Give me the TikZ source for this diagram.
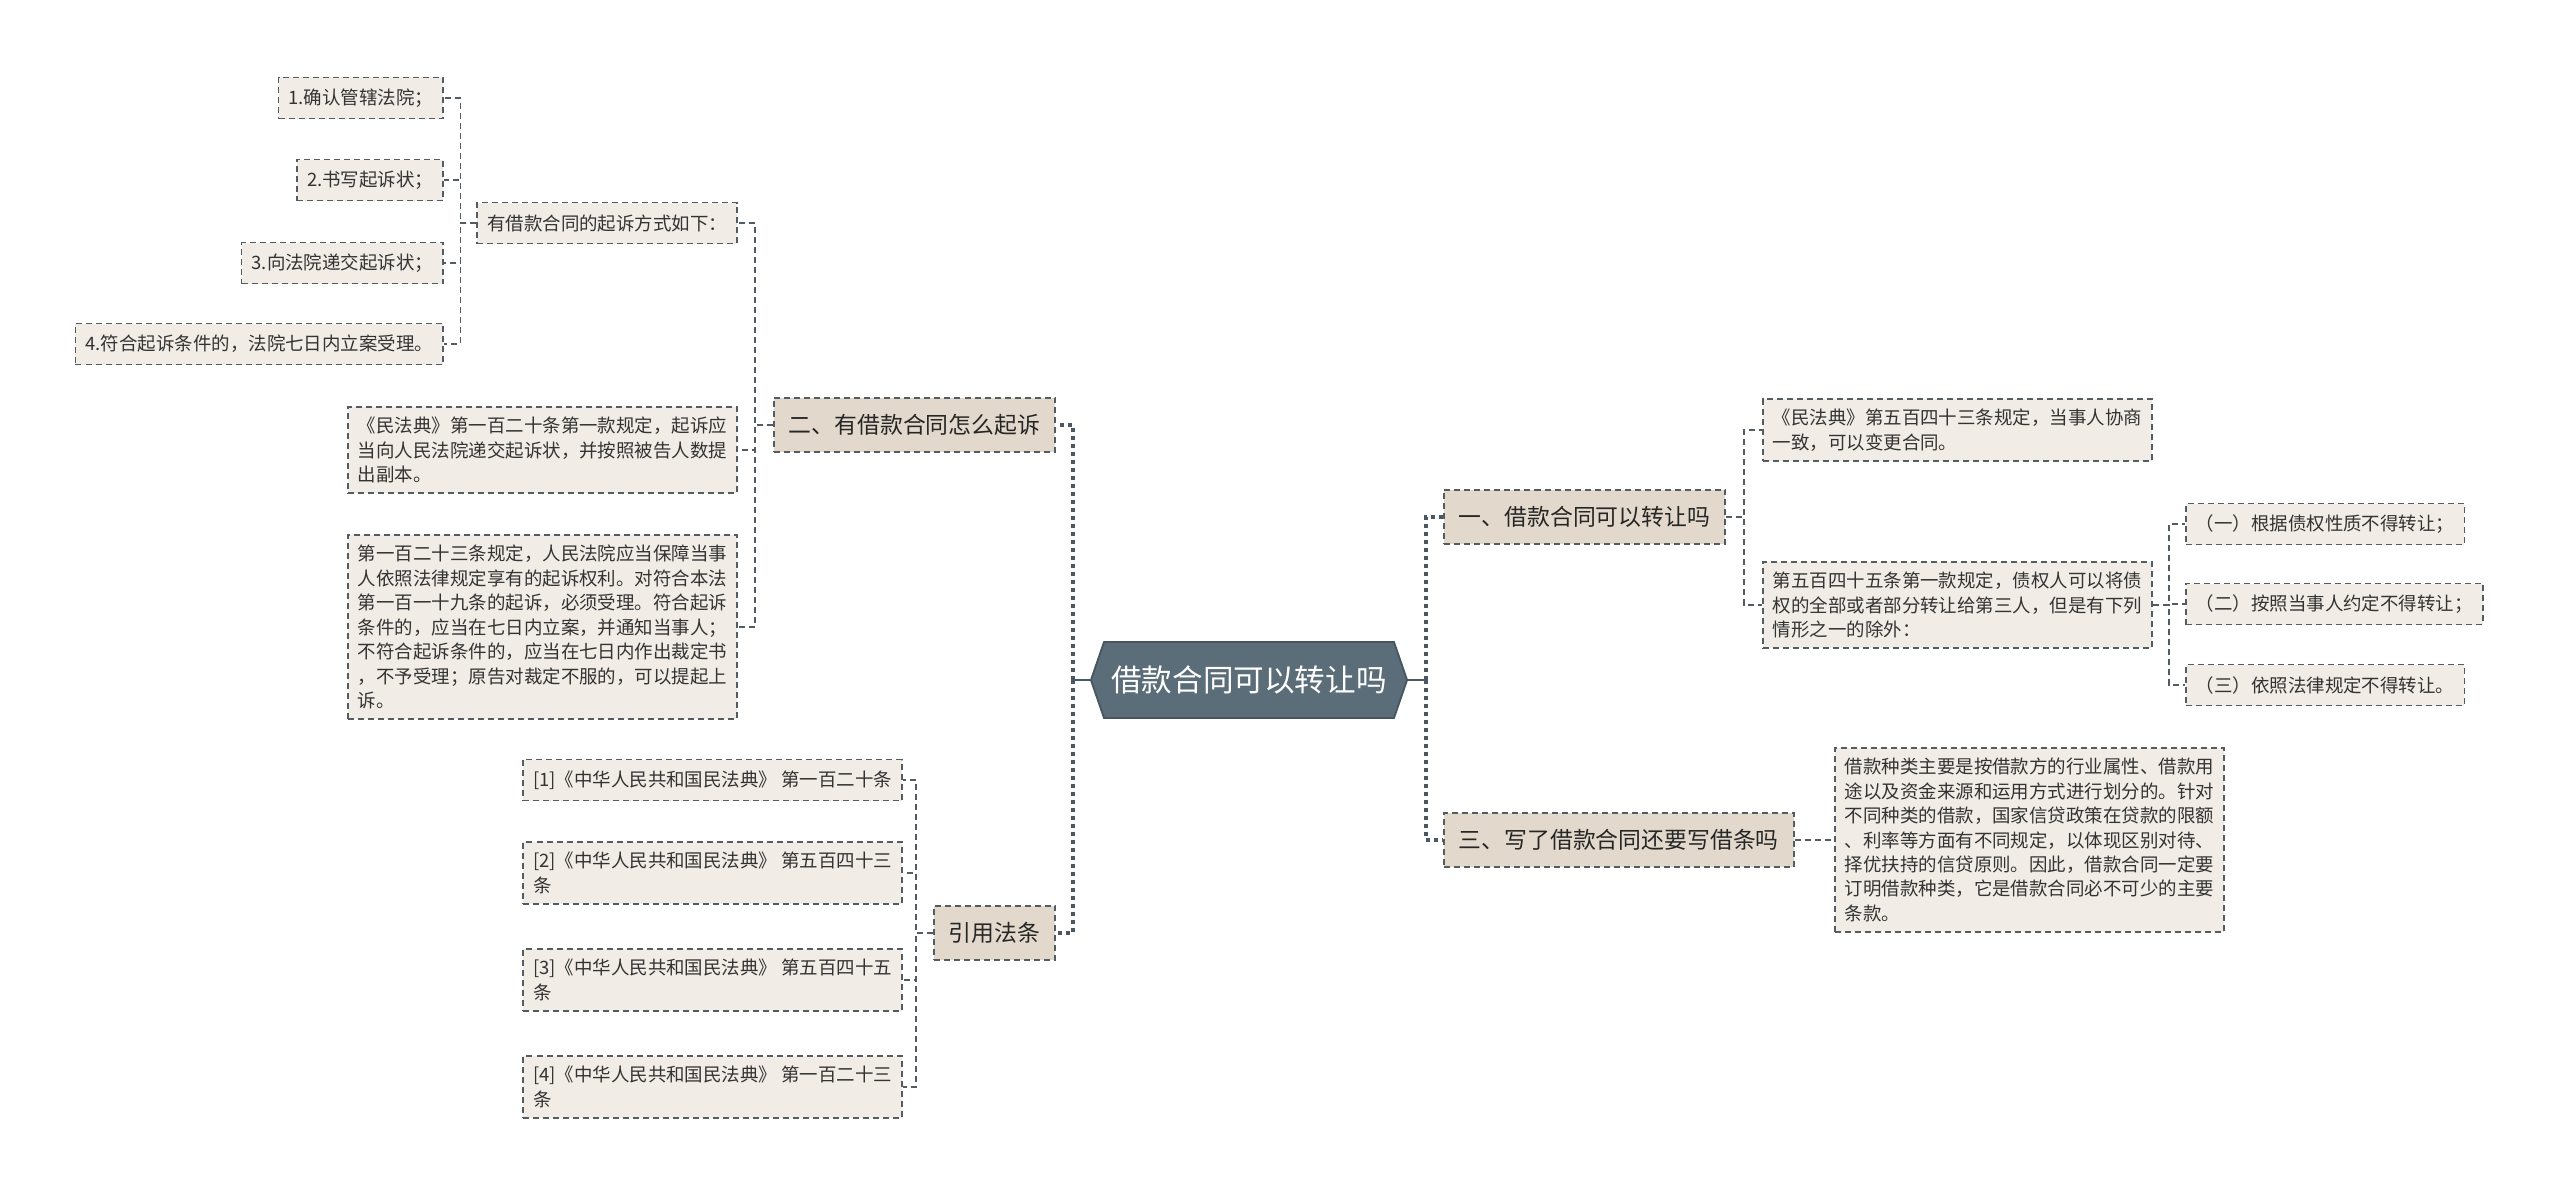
\documentclass[tikz,border=0pt]{standalone}
\usepackage{fontspec}
\setmainfont{Noto Sans CJK SC}
\usetikzlibrary{shapes.symbols}

\definecolor{rootfill}{HTML}{5B6D79}
\definecolor{rootline}{HTML}{46555F}
\definecolor{topicfill}{HTML}{E2D9CC}
\definecolor{leaffill}{HTML}{F1EDE6}
\definecolor{edgeline}{HTML}{535C63}
\definecolor{spineline}{HTML}{4B5761}

\newcommand*{\leaffont}{\fontsize{5.25pt}{6.95pt}\selectfont}
\newcommand*{\topicfont}{\fontsize{6.5pt}{8pt}\selectfont}
\newcommand*{\rootfont}{\fontsize{8.7pt}{10pt}\selectfont}

\begin{document}
\begin{tikzpicture}
[
	x=0.01cm,
	y=-0.01cm,
	root/.style={signal,signal to=west and east,signal pointer angle=142,fill=rootfill,draw=rootline,line width=0.5pt,
		text=white,font=\rootfont,minimum width=3.16cm,minimum height=0.76cm,inner xsep=0.05cm},
	topic/.style={draw=edgeline,dash pattern=on 0.06cm off 0.04cm,line width=0.45pt,fill=topicfill,
		font=\topicfont,text=black!85,minimum height=0.54cm,inner xsep=0.15cm},
	leaf/.style={draw=edgeline,dash pattern=on 0.06cm off 0.04cm,line width=0.45pt,fill=leaffill,
		font=\leaffont,text=black!80,align=left,minimum height=0.41cm,inner xsep=0.1cm,inner ysep=0.1cm},
	mainlink/.style={spineline,line width=0.9pt,dash pattern=on 0.04cm off 0.04cm},
	stemline/.style={spineline,line width=0.6pt},
	sublink/.style={edgeline,line width=0.45pt,dash pattern=on 0.06cm off 0.04cm}
]

	% page
	\useasboundingbox[fill=white] (0,0) rectangle (2560,1199);

	% root
	\node[root] (root) at (1249,680) {借款合同可以转让吗};

	% topics
	\node[topic,anchor=east] (sue) at (1056,425) {二、有借款合同怎么起诉};
	\node[topic,anchor=east] (laws) at (1056,933) {引用法条};
	\node[topic,anchor=west] (transfer) at (1443,517) {一、借款合同可以转让吗};
	\node[topic,anchor=west] (iou) at (1443,840) {三、写了借款合同还要写借条吗};

	% how to sue
	\node[leaf,anchor=east] (ways) at (738,223) {有借款合同的起诉方式如下：};
	\node[leaf,anchor=east] (art120) at (738,450) {《民法典》第一百二十条第一款规定，起诉应\\当向人民法院递交起诉状，并按照被告人数提\\出副本。};
	\node[leaf,anchor=east] (art123) at (738,627) {第一百二十三条规定，人民法院应当保障当事\\人依照法律规定享有的起诉权利。对符合本法\\第一百一十九条的起诉，必须受理。符合起诉\\条件的，应当在七日内立案，并通知当事人；\\不符合起诉条件的，应当在七日内作出裁定书\\，不予受理；原告对裁定不服的，可以提起上\\诉。};

	\node[leaf,anchor=east] (stepa) at (444,98) {1.确认管辖法院；};
	\node[leaf,anchor=east] (stepb) at (444,180) {2.书写起诉状；};
	\node[leaf,anchor=east] (stepc) at (444,263) {3.向法院递交起诉状；};
	\node[leaf,anchor=east] (stepd) at (444,344) {4.符合起诉条件的，法院七日内立案受理。};

	% cited articles
	\node[leaf,anchor=east] (refa) at (903,780) {[1]《中华人民共和国民法典》 第一百二十条};
	\node[leaf,anchor=east] (refb) at (903,873) {[2]《中华人民共和国民法典》 第五百四十三\\条};
	\node[leaf,anchor=east] (refc) at (903,980) {[3]《中华人民共和国民法典》 第五百四十五\\条};
	\node[leaf,anchor=east] (refd) at (903,1087) {[4]《中华人民共和国民法典》 第一百二十三\\条};

	% transfer
	\node[leaf,anchor=west] (art543) at (1762,430) {《民法典》第五百四十三条规定，当事人协商\\一致，可以变更合同。};
	\node[leaf,anchor=west] (art545) at (1762,605) {第五百四十五条第一款规定，债权人可以将债\\权的全部或者部分转让给第三人，但是有下列\\情形之一的除外：};

	\node[leaf,anchor=west] (excepta) at (2185,524) {（一）根据债权性质不得转让；};
	\node[leaf,anchor=west] (exceptb) at (2185,604) {（二）按照当事人约定不得转让；};
	\node[leaf,anchor=west] (exceptc) at (2185,685) {（三）依照法律规定不得转让。};

	% iou
	\node[leaf,anchor=west] (kinds) at (1834,840) {借款种类主要是按借款方的行业属性、借款用\\途以及资金来源和运用方式进行划分的。针对\\不同种类的借款，国家信贷政策在贷款的限额\\、利率等方面有不同规定，以体现区别对待、\\择优扶持的信贷原则。因此，借款合同一定要\\订明借款种类，它是借款合同必不可少的主要\\条款。};

	% links from root
	\path (root.west) ++(-17,0) coordinate (lspine);
	\path (root.east) ++(18,0) coordinate (rspine);
	\draw[stemline] (root.west) -- (lspine);
	\draw[stemline] (root.east) -- (rspine);
	\draw[mainlink] (lspine) |- (sue.east);
	\draw[mainlink] (lspine) |- (laws.east);
	\draw[mainlink] (rspine) |- (transfer.west);
	\draw[mainlink] (rspine) |- (iou.west);

	% links on the left
	\draw[sublink] (sue.west) -- ++(-18,0) |- (ways.east);
	\draw[sublink] (sue.west) -- ++(-18,0) |- (art120.east);
	\draw[sublink] (sue.west) -- ++(-18,0) |- (art123.east);

	\draw[sublink] (ways.west) -- ++(-16,0) |- (stepa.east);
	\draw[sublink] (ways.west) -- ++(-16,0) |- (stepb.east);
	\draw[sublink] (ways.west) -- ++(-16,0) |- (stepc.east);
	\draw[sublink] (ways.west) -- ++(-16,0) |- (stepd.east);

	\draw[sublink] (laws.west) -- ++(-17,0) |- (refa.east);
	\draw[sublink] (laws.west) -- ++(-17,0) |- (refb.east);
	\draw[sublink] (laws.west) -- ++(-17,0) |- (refc.east);
	\draw[sublink] (laws.west) -- ++(-17,0) |- (refd.east);

	% links on the right
	\draw[sublink] (transfer.east) -- ++(18,0) |- (art543.west);
	\draw[sublink] (transfer.east) -- ++(18,0) |- (art545.west);

	\draw[sublink] (art545.east) -- ++(16,0) |- (excepta.west);
	\draw[sublink] (art545.east) -- ++(16,0) |- (exceptb.west);
	\draw[sublink] (art545.east) -- ++(16,0) |- (exceptc.west);

	\draw[sublink] (iou.east) -- (kinds.west);

\end{tikzpicture}
\end{document}
